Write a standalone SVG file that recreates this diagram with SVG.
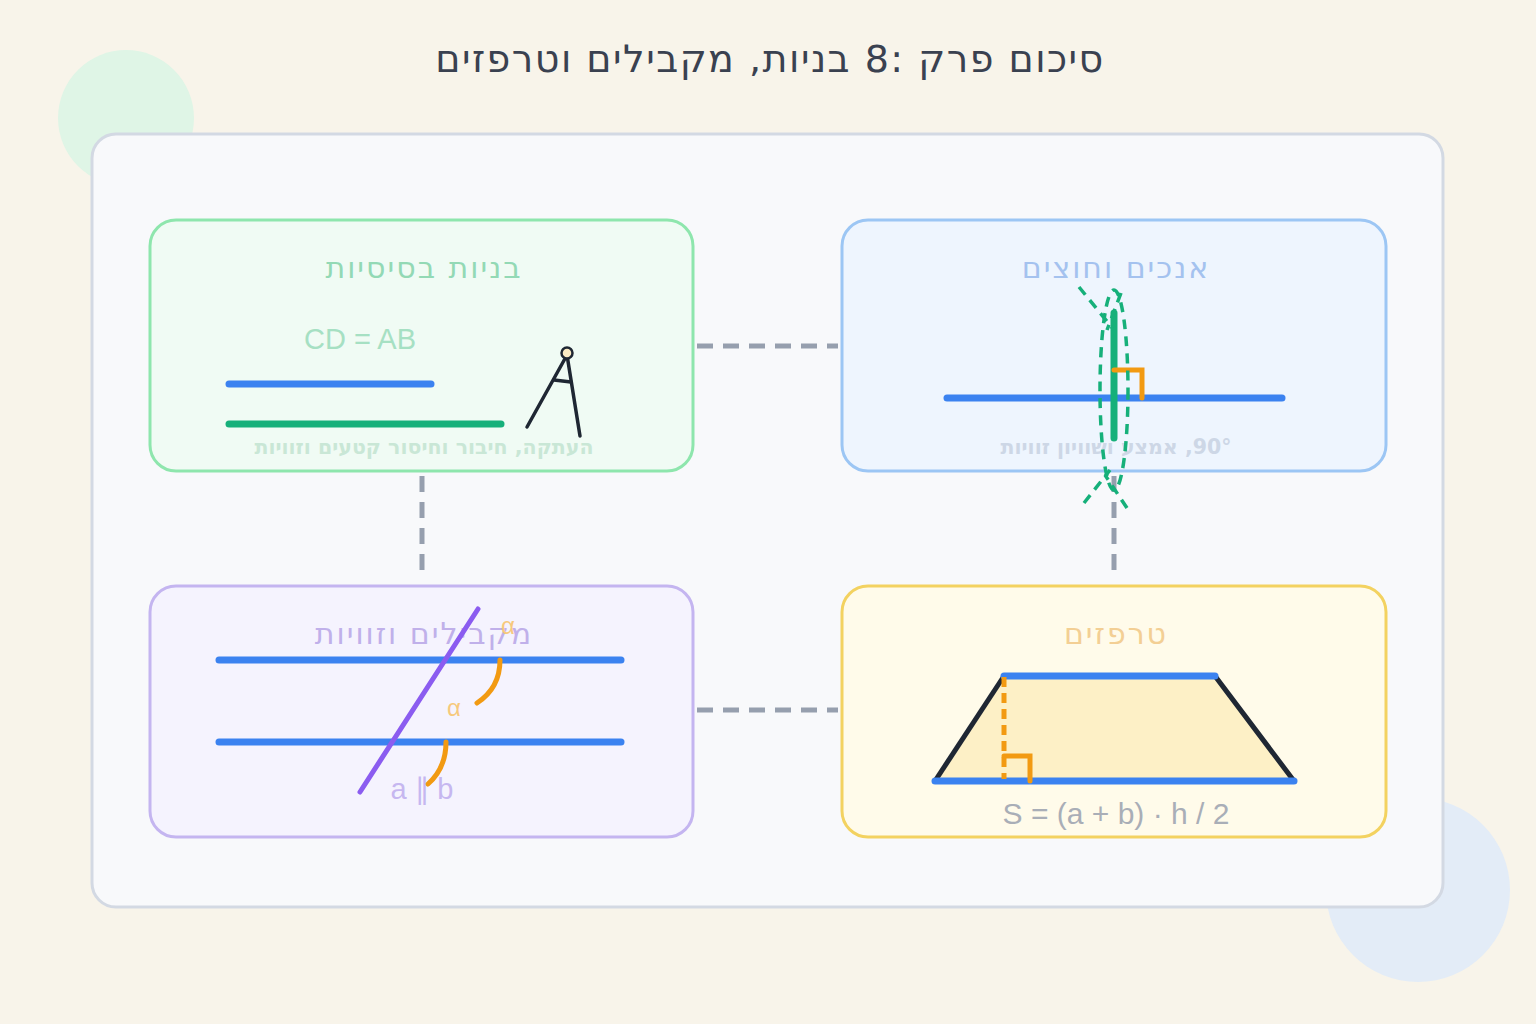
<svg xmlns="http://www.w3.org/2000/svg" width="1536" height="1024" viewBox="0 0 1536 1024">
<style>
.t{font-family:"Liberation Sans","DejaVu Sans",sans-serif;text-anchor:middle}
.he{font-family:"DejaVu Sans","Liberation Sans",sans-serif;text-anchor:middle}
.h{font-size:30px;letter-spacing:2px}
.s{font-size:20.5px;font-weight:bold}
.conn{stroke:#969fae;stroke-width:5;stroke-dasharray:16 10;fill:none}
.bl{stroke:#3b82f0;stroke-width:7;stroke-linecap:round}
.or{stroke:#f29a12;stroke-width:5;fill:none;stroke-linecap:round}
.gd{stroke:#16b07a;stroke-width:3.5;stroke-dasharray:10 7;fill:none}
</style>
<rect width="1536" height="1024" fill="#f8f4ea"/>
<circle cx="126" cy="118" r="68" fill="#dff5e6"/>
<circle cx="1418" cy="890" r="92" fill="#e3ecf7"/>
<rect x="92" y="134" width="1351" height="773" rx="24" fill="#f8f9fb" stroke="#d3d9e3" stroke-width="3"/>
<text x="770" y="72" class="he" font-size="38" letter-spacing="1.5" fill="#3a4150" direction="rtl">סיכום פרק <tspan direction="ltr" unicode-bidi="embed">8:</tspan> בניות, מקבילים וטרפזים</text>
<g id="connectors">
<line class="conn" x1="697" y1="346" x2="838" y2="346"/>
<line class="conn" x1="697" y1="710" x2="838" y2="710"/>
<line class="conn" x1="422" y1="476" x2="422" y2="574"/>
<line class="conn" x1="1114" y1="476" x2="1114" y2="574"/>
</g>
<g id="basic">
<rect x="150" y="220" width="543" height="251" rx="26" fill="#f0fbf4" stroke="#8ee6ad" stroke-width="3"/>
<text x="424" y="278" class="he h" fill="#93d9b5" direction="rtl">בניות בסיסיות</text>
<text x="360" y="349" class="t" font-size="29" fill="#a6e0c3">CD = AB</text>
<line class="bl" x1="229" y1="384" x2="431" y2="384"/>
<line x1="229" y1="424" x2="501" y2="424" stroke="#16b07a" stroke-width="7" stroke-linecap="round"/>
<g stroke="#1f2733" stroke-width="3.5" stroke-linecap="round" fill="none">
<line x1="567" y1="355" x2="527" y2="427"/>
<line x1="567" y1="355" x2="580" y2="436"/>
<line x1="554" y1="380" x2="571" y2="382"/>
<circle cx="567" cy="353" r="5.5" fill="#fcebc4" stroke-width="2.5"/>
</g>
<text x="424" y="454" class="he s" fill="#c9e7d6" direction="rtl">העתקה, חיבור וחיסור קטעים וזוויות</text>
</g>
<g id="bisectors">
<rect x="842" y="220" width="544" height="251" rx="26" fill="#eef5fe" stroke="#9cc6f4" stroke-width="3"/>
<text x="1116" y="278" class="he h" fill="#a4c2ef" direction="rtl">אנכים וחוצים</text>
<line class="bl" x1="947" y1="398" x2="1282" y2="398"/>
<line x1="1114" y1="313" x2="1114" y2="438" stroke="#16b07a" stroke-width="7" stroke-linecap="round"/>
<path class="or" d="M1114 370 H1142 V398" stroke-linecap="butt"/>
<text x="1116" y="454" class="he s" fill="#cdd7e6" direction="rtl">90°, אמצע ושוויון זוויות</text>
<ellipse class="gd" cx="1114" cy="390" rx="14" ry="100"/>
<line class="gd" x1="1079" y1="287" x2="1114" y2="330"/>
<line class="gd" x1="1121" y1="293" x2="1107" y2="330"/>
<line class="gd" x1="1084" y1="503" x2="1110" y2="470"/>
<line class="gd" x1="1127" y1="508" x2="1105" y2="475"/>
</g>
<g id="parallels">
<rect x="150" y="586" width="543" height="251" rx="26" fill="#f5f3fe" stroke="#c4b5f0" stroke-width="3"/>
<text x="424" y="644" class="he h" fill="#c0b0ea" direction="rtl">מקבילים וזוויות</text>
<line class="bl" x1="219" y1="660" x2="621" y2="660"/>
<line class="bl" x1="219" y1="742" x2="621" y2="742"/>
<line x1="478" y1="609" x2="360" y2="792" stroke="#8b5cf0" stroke-width="5" stroke-linecap="round"/>
<path class="or" d="M500 660 Q500 688 477 703"/>
<path class="or" d="M446 742 Q446 768 428 784"/>
<text x="454" y="716" class="t" font-size="24" fill="#f7c97c">α</text>
<text x="508" y="634" class="t" font-size="24" fill="#f7c97c">α</text>
<text x="422" y="799" class="t" font-size="29" fill="#c6b7f0">a ∥ b</text>
</g>
<g id="trapezoids">
<rect x="842" y="586" width="544" height="251" rx="26" fill="#fffbea" stroke="#f3d260" stroke-width="3"/>
<text x="1116" y="644" class="he h" fill="#f3cf94" direction="rtl">טרפזים</text>
<polygon points="935,781 1004,676 1215,676 1294,781" fill="#fdf0c6"/>
<g stroke="#1f2733" stroke-width="5" stroke-linecap="round">
<line x1="935" y1="781" x2="1004" y2="676"/>
<line x1="1215" y1="676" x2="1294" y2="781"/>
</g>
<line class="bl" x1="1004" y1="676" x2="1215" y2="676"/>
<line class="bl" x1="935" y1="781" x2="1294" y2="781"/>
<line x1="1004" y1="677" x2="1004" y2="779" stroke="#f29a12" stroke-width="5" stroke-dasharray="10 6"/>
<path class="or" d="M1004 756 H1030 V781" stroke-linecap="butt"/>
<text x="1116" y="824" class="t" font-size="30" fill="#a9aeb7">S = (a + b) · h / 2</text>
</g>
</svg>
